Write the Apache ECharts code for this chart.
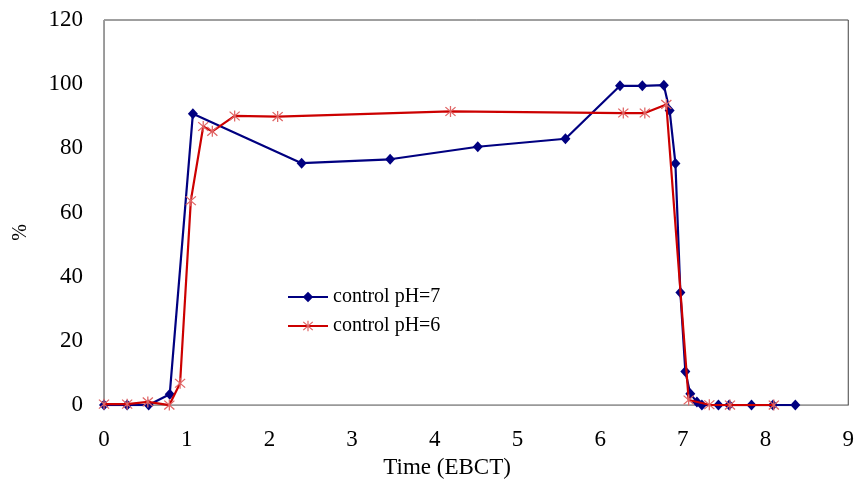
<!DOCTYPE html>
<html>
<head>
<meta charset="utf-8">
<script src="https://cdn.jsdelivr.net/npm/echarts@6/dist/echarts.min.js"></script>
<style>
  html, body { margin: 0; padding: 0; background: #fff; }
  #chart { width: 857px; height: 484px; }
</style>
</head>
<body>
<div id="chart"></div>
<script>
// control pH=7
const ph7Time = [0, 0.28, 0.54, 0.795, 1.075, 2.39, 3.46, 4.52, 5.58, 6.24, 6.51, 6.77, 6.84, 6.91, 6.97, 7.03, 7.09, 7.17, 7.23, 7.43, 7.56, 7.83, 8.09, 8.36];
const ph7Value = [0, 0, 0, 3.4, 90.8, 75.4, 76.6, 80.5, 83, 99.5, 99.5, 99.7, 91.8, 75.3, 35.1, 10.5, 3.5, 1, 0, 0, 0, 0, 0, 0];
// control pH=6
const ph6Time = [0, 0.28, 0.53, 0.79, 0.92, 1.05, 1.2, 1.31, 1.58, 2.1, 4.19, 6.28, 6.54, 6.8, 7.07, 7.32, 7.57, 8.1];
const ph6Value = [0.3, 0.3, 1, 0, 6.8, 63.7, 86.8, 85.3, 90.1, 89.9, 91.5, 91, 91, 93.7, 1.6, 0.1, 0, 0];

const seriesNames = ['control pH=7', 'control pH=6'];

const font = 'Liberation Serif';
// asterisk marker (vertical bar + X)
const starPath = 'path://M-0.5 -5L0.5 -5L0.5 5L-0.5 5Z' +
  'M-3.65 -4.35L4.35 3.65L3.65 4.35L-4.35 -3.65Z' +
  'M3.65 -4.35L4.35 -3.65L-3.65 4.35L-4.35 3.65Z';

function pairs(xs, ys) {
  return xs.map((x, i) => [x, ys[i]]);
}

const chart = echarts.init(document.getElementById('chart'));
chart.setOption({
  animation: false,
  backgroundColor: '#fff',
  grid: {
    left: 104, right: 5, top: 20, bottom: 76,
    show: true, borderColor: '#404040', borderWidth: 1
  },
  legend: {
    orient: 'vertical',
    left: 287, top: 287, padding: 0,
    itemWidth: 40, itemHeight: 13, itemGap: 9,
    textStyle: { fontFamily: font, fontSize: 20, color: '#000' },
    data: seriesNames
  },
  // y axis title sits a bit below the middle in the original
  graphic: [{
    type: 'text',
    left: 11, top: 224,
    rotation: Math.PI / 2,
    style: { text: '%', font: '20px "Liberation Serif"', fill: '#000' }
  }],
  xAxis: {
    type: 'value', min: 0, max: 9, interval: 1,
    name: 'Time (EBCT)', nameLocation: 'middle', nameGap: 48,
    nameTextStyle: { fontFamily: font, fontSize: 23, color: '#000', padding: [0, 58, 0, 0] },
    axisLine: { lineStyle: { color: '#999', width: 1 } },
    axisTick: { show: false },
    splitLine: { show: false },
    axisLabel: { fontFamily: font, fontSize: 23, color: '#000', margin: 23 }
  },
  yAxis: {
    type: 'value', min: 0, max: 120, interval: 20,
    axisLine: { show: true, lineStyle: { color: '#999', width: 1 } },
    axisTick: { show: false },
    splitLine: { show: false },
    axisLabel: { fontFamily: font, fontSize: 23, color: '#000', margin: 21 }
  },
  series: [
    {
      name: seriesNames[0],
      type: 'line',
      data: pairs(ph7Time, ph7Value),
      symbol: 'diamond',
      symbolSize: [10, 11],
      color: '#000080',
      lineStyle: { width: 2.2, color: '#000080' },
      itemStyle: { color: '#000080' },
      z: 3
    },
    {
      name: seriesNames[1],
      type: 'line',
      data: pairs(ph6Time, ph6Value),
      symbol: starPath,
      symbolSize: [11, 11],
      color: '#cc0000',
      lineStyle: { width: 2.2, color: '#cc0000' },
      itemStyle: { color: '#e06666' },
      z: 4
    }
  ]
});
</script>
</body>
</html>
